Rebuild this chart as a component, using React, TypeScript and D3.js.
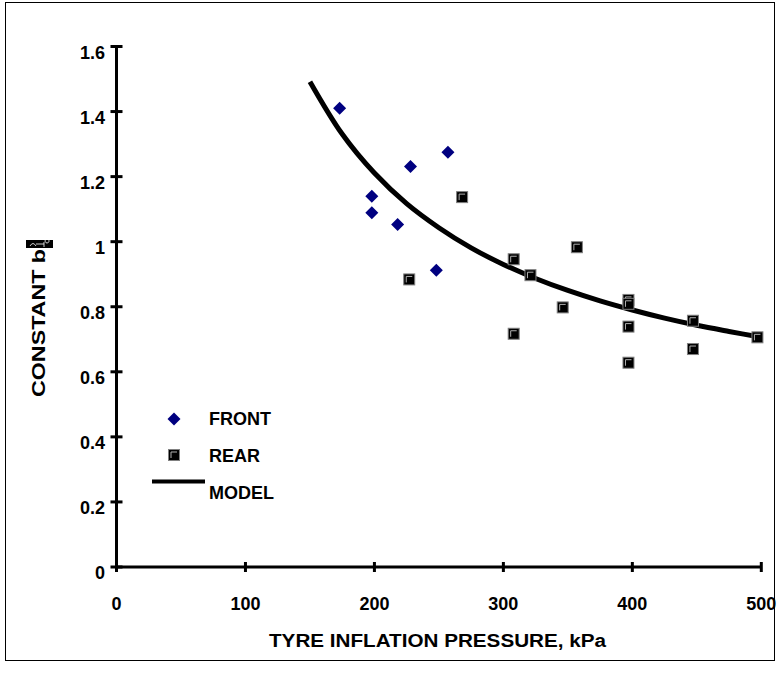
import React from "react";
import * as d3 from "d3";

const xTicks = [0, 100, 200, 300, 400, 500];
const yTicks = [0, 0.2, 0.4, 0.6, 0.8, 1, 1.2, 1.4, 1.6];

const frontX = [173, 198, 198, 218, 228, 248, 257];
const frontY = [1.41, 1.14, 1.089, 1.053, 1.231, 0.912, 1.275];

const rearX = [268, 227, 308, 308, 321, 346, 357, 397, 397, 397, 397, 447, 447, 497];
const rearY = [1.137, 0.884, 0.946, 0.717, 0.897, 0.798, 0.983, 0.821, 0.809, 0.739, 0.628, 0.757, 0.67, 0.706];

const modelX = [150, 175, 200, 225, 250, 275, 300, 325, 350, 375, 400, 425, 450, 475, 500];
const modelY = [1.492, 1.331, 1.211, 1.117, 1.043, 0.981, 0.93, 0.887, 0.85, 0.818, 0.79, 0.765, 0.743, 0.724, 0.706];

const FONT = "'Liberation Sans', Arial, sans-serif";

export default function App() {
  const W = 777;
  const H = 676;
  const x = d3.scaleLinear().domain([0, 500]).range([116.5, 761.3]);
  const y = d3.scaleLinear().domain([0, 1.6]).range([567, 46.5]);

  const line = d3
    .line<number>()
    .x((_, i) => x(modelX[i]))
    .y((_, i) => y(modelY[i]))
    .curve(d3.curveCatmullRom);

  const diamond = (cx: number, cy: number, r = 6.5) =>
    `M${cx},${cy - r}L${cx + r},${cy}L${cx},${cy + r}L${cx - r},${cy}Z`;

  const square = (cx: number, cy: number, k: string) => (
    <g key={k}>
      <rect x={cx - 5.5} y={cy - 5.5} width={11} height={11} fill="#000" stroke="#808080" strokeWidth={1} />
      <path
        d={`M${cx - 3},${cy + 3}V${cy - 3}H${cx + 3}`}
        fill="none"
        stroke="#b0b0b0"
        strokeWidth={1}
      />
    </g>
  );

  const fs = 18;

  return (
    <svg
      width={W}
      height={H}
      style={{ position: "absolute", left: 0, top: 0, background: "#fff" }}
      fontFamily={FONT}
    >
      <rect x={0} y={0} width={W} height={H} fill="#fff" />
      <rect x={5.5} y={2.5} width={769} height={658} fill="none" stroke="#000" strokeWidth={1} />

      {/* axes */}
      <line x1={x(0)} x2={x(500)} y1={y(0)} y2={y(0)} stroke="#000" strokeWidth={3} />
      <line x1={x(0)} x2={x(0)} y1={y(0)} y2={y(1.6)} stroke="#000" strokeWidth={3} />
      {xTicks.map((t) => (
        <g key={"xt" + t}>
          <line x1={x(t)} x2={x(t)} y1={y(0) - 5} y2={y(0) + 5} stroke="#000" strokeWidth={3} />
          <text x={x(t)} y={610} textAnchor="middle" fontSize={fs} fontWeight="bold">
            {t}
          </text>
        </g>
      ))}
      {yTicks.map((t) => (
        <g key={"yt" + t}>
          <line x1={x(0) - 6} x2={x(0) + 6} y1={y(t)} y2={y(t)} stroke="#000" strokeWidth={3} />
          <text x={105} y={y(t) + 12} textAnchor="end" fontSize={fs} fontWeight="bold">
            {t}
          </text>
        </g>
      ))}

      {/* titles */}
      <text x={437.5} y={647} textAnchor="middle" fontSize={fs} fontWeight="bold" textLength={337} lengthAdjust="spacingAndGlyphs">
        TYRE INFLATION PRESSURE, kPa
      </text>
      <g transform="translate(45,397) rotate(-90)">
        <text x={0} y={0} textAnchor="start" fontSize={fs} fontWeight="bold" textLength={148} lengthAdjust="spacingAndGlyphs">
          CONSTANT b
        </text>
      </g>
      <rect x={26} y={240} width={27} height={8} fill="#000" />
      <path d="M30,246 q3,-5 6,0 M36,244 h8 M44,242 v5 M47,243 a2,2 0 1 1 0.1,0" fill="none" stroke="#fff" strokeWidth={0.8} />

      {/* model curve */}
      <path d={line(modelX) || ""} fill="none" stroke="#000" strokeWidth={5} />

      {/* front */}
      {frontX.map((v, i) => (
        <path key={"f" + i} d={diamond(x(v), y(frontY[i]))} fill="#000080" />
      ))}
      {/* rear */}
      {rearX.map((v, i) => square(x(v), y(rearY[i]), "r" + i))}

      {/* legend */}
      <path d={diamond(174, 419)} fill="#000080" />
      <text x={209} y={425} fontSize={fs} fontWeight="bold">FRONT</text>
      {square(174, 455, "lg")}
      <text x={209} y={462} fontSize={fs} fontWeight="bold">REAR</text>
      <line x1={152} x2={205} y1={481.5} y2={481.5} stroke="#000" strokeWidth={4} />
      <text x={209} y={499} fontSize={fs} fontWeight="bold">MODEL</text>
    </svg>
  );
}
